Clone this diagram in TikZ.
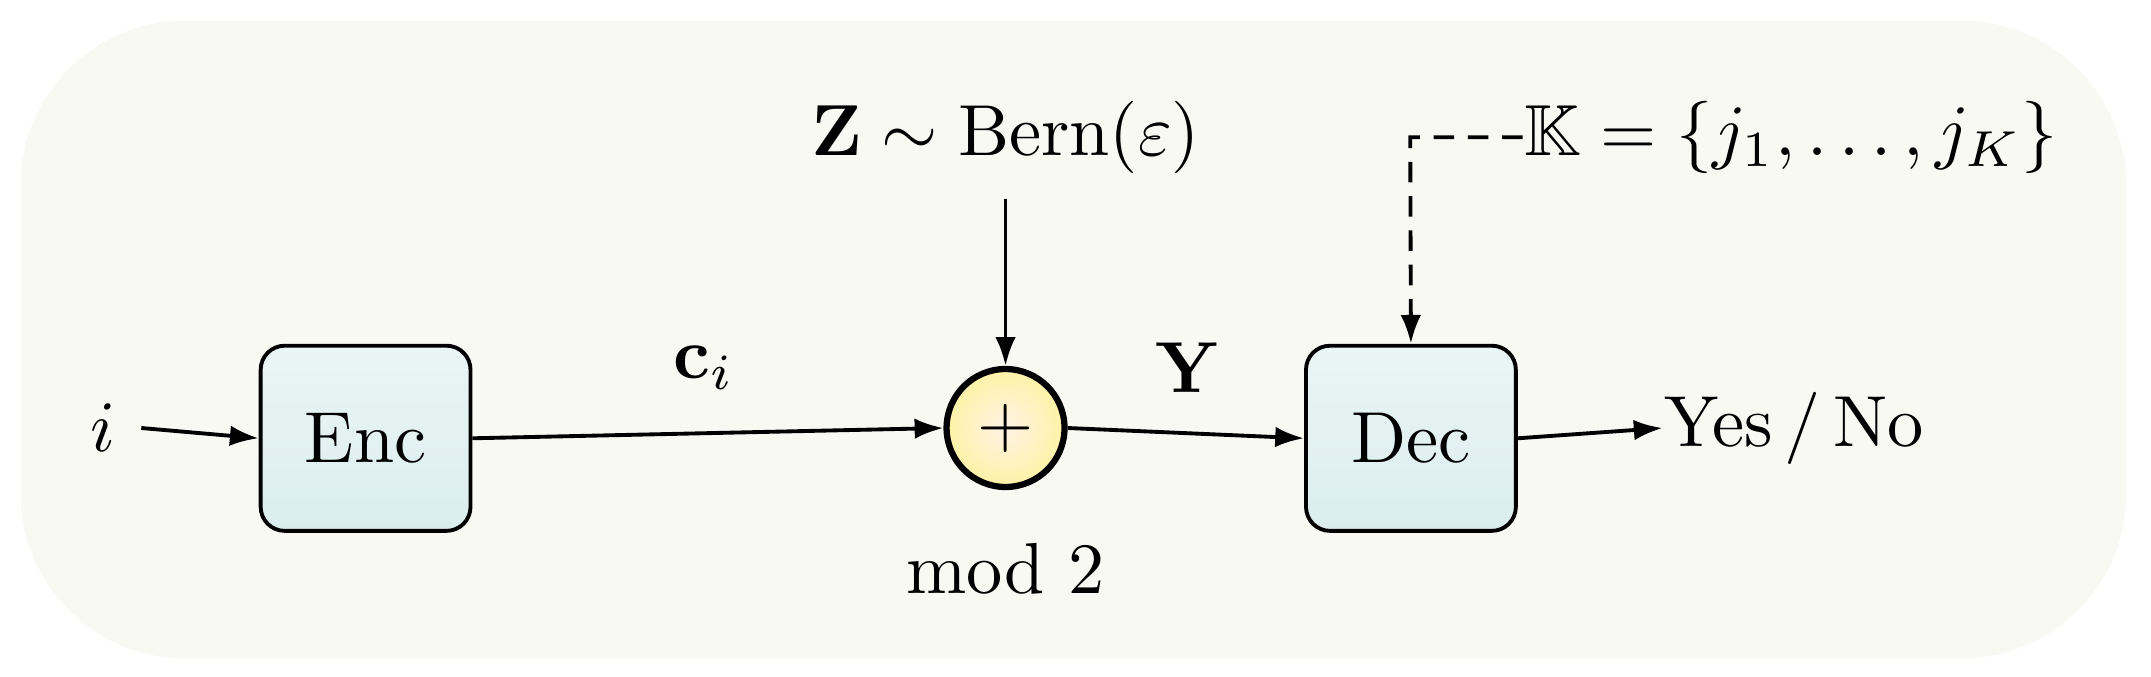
\documentclass[tikz,border=0pt]{standalone}
\usepackage{amsmath,amssymb}
\usetikzlibrary{arrows.meta}
\begin{document}
\begin{tikzpicture}[x=0.02cm,y=-0.02cm,
  txt/.style={inner sep=0pt, scale=3},
  blk/.style={draw, line width=1.6pt, rounded corners=0.35cm, minimum width=3.06cm, minimum height=2.7cm,
     top color=teal!8, bottom color=teal!14},
  arr/.style={line width=1.6pt, -{Latex[length=0.42cm,width=0.3cm]}}]
\useasboundingbox (0,0) rectangle (1568,493);
\fill[yellow!30!gray!7, rounded corners=2.4cm] (15,15) rectangle (1550,480);
\node[blk] (enc) at (266.5,319.5) {\scalebox{3}{Enc}};
\node[blk] (dec) at (1028.5,319.5) {\scalebox{3}{Dec}};
\node[circle, draw, line width=2.6pt, minimum size=1.72cm, inner sep=0pt,
  inner color=orange!10, outer color=orange!30!yellow!35!white] (sum) at (733,312) {\scalebox{3}{$+$}};
\node[txt] (i) at (75,312) {$i$};
\node[txt, anchor=west] (yn) at (1212,312) {Yes\,/\,No};
\node[txt] (z) at (733,100) {$\mathbf{Z}\sim\mathrm{Bern}(\varepsilon)$};
\node[txt, anchor=west] (k) at (1110,100) {$\mathbb{K}=\{j_1,\dots,j_K\}$};
\node[txt] (mod) at (733,415) {mod 2};
\node[txt] (ci) at (513,268) {$\mathbf{c}_i$};
\node[txt] (y) at (866,268) {$\mathbf{Y}$};
\coordinate (zt) at (733,145);
\coordinate (kc) at (1028,100);
\coordinate (is) at (103,312);
\draw[arr] (is) -- (enc.west);
\draw[arr] (enc.east) -- (sum.west);
\draw[arr] (sum.east) -- (dec.west);
\draw[arr] (dec.east) -- (yn.west);
\draw[arr] (zt) -- (sum.north);
\draw[arr, dash pattern=on 0.3cm off 0.2cm] (k.west) -- (kc) -- (dec.north);
\end{tikzpicture}
\end{document}
